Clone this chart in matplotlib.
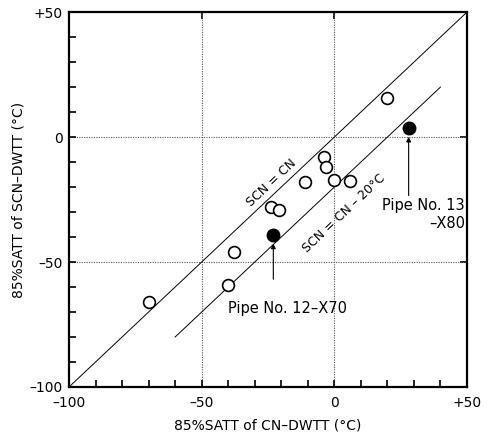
import matplotlib
matplotlib.use("Agg")
import matplotlib.pyplot as plt
import numpy as np

# Data
open_x = [-70, -40, -38, -24, -21, -11, -4, -3, 0, 6, 20]
open_y = [-66, -59, -46, -28, -29, -18, -8, -12, -17, -17.5, 15.5]
filled_x = [-23, 28]
filled_y = [-39, 3.7]
line1_x = [-100, 50]
line1_y = [-100, 50]
line2_x = [-60, 40]
line2_y = [-80, 20]
xticks_major = [-100, -50, 0, 50]
xtick_labels = ["\u2013100", "\u201350", "0", "+50"]
yticks_major = [-100, -50, 0, 50]
ytick_labels = ["\u2013100", "\u201350", "0", "+50"]

plt.rcParams['font.family'] = ['DejaVu Sans']

fig = plt.figure(figsize=(4.88, 4.32), dpi=100)
ax = fig.add_axes([0.1414, 0.1042, 0.957 - 0.1414, 0.972 - 0.1042])
ax.set_xlim(-100, 50)
ax.set_ylim(-100, 50)

# grid lines
for v in [-50, 0]:
    ax.axvline(v, color='#555555', lw=0.8, ls=(0, (1, 1.2)), zorder=1)
    ax.axhline(v, color='#555555', lw=0.8, ls=(0, (1, 1.2)), zorder=1)

ax.plot(line1_x, line1_y, color='black', lw=0.7, zorder=2)
ax.plot(line2_x, line2_y, color='black', lw=0.7, zorder=2)

ax.plot(open_x, open_y, ls='none', marker='o', ms=8.5, mfc='white', mec='black', mew=1.2, zorder=3)
ax.plot(filled_x, filled_y, ls='none', marker='o', ms=9, mfc='black', mec='black', zorder=3)

# line labels
ax.text(-23.8, -18.4, "SCN = CN", rotation=43.3, ha='center', va='center', fontsize=9, rotation_mode='anchor')
ax.text(3.8, -30.4, "SCN = CN \u2013 20\u00b0C", rotation=43.3, ha='center', va='center', fontsize=9, rotation_mode='anchor')

# arrows
ax.annotate("", xy=(filled_x[0], filled_y[0] - 2.5), xytext=(filled_x[0], -58),
            arrowprops=dict(arrowstyle='-|>', color='black', lw=0.8, mutation_scale=7))
ax.annotate("", xy=(filled_x[1], filled_y[1] - 2.5), xytext=(filled_x[1], -24.5),
            arrowprops=dict(arrowstyle='-|>', color='black', lw=0.8, mutation_scale=7))
ax.text(-40, -68.4, "Pipe No. 12\u2013X70", ha='left', va='center', fontsize=10.5)
ax.text(49.2, -31, "Pipe No. 13\n\u2013X80", ha='right', va='center', fontsize=10.5, linespacing=1.2)

ax.set_xticks(xticks_major)
ax.set_xticklabels(xtick_labels)
ax.set_yticks(yticks_major)
ax.set_yticklabels(ytick_labels)
ax.set_xticks(np.arange(-90, 50, 10), minor=True)
ax.set_yticks(np.arange(-90, 50, 10), minor=True)
ax.tick_params(which='both', direction='in', length=5, width=1.2, labelsize=10,
               top=False, right=False)
ax.tick_params(axis='x', pad=6.5)
ax.tick_params(axis='y', pad=4.5)

# top/right ticks at -50 and 0
secx = ax.secondary_xaxis('top')
secx.set_xticks([-50, 0])
secx.tick_params(direction='in', length=5, width=1.2, labeltop=False)
secy = ax.secondary_yaxis('right')
secy.set_yticks([-50, 0])
secy.tick_params(direction='in', length=5, width=1.2, labelright=False)
for s in secx.spines.values():
    s.set_visible(False)
for s in secy.spines.values():
    s.set_visible(False)

for s in ax.spines.values():
    s.set_linewidth(1.6)

ax.set_xlabel("85%SATT of CN\u2013DWTT (\u00b0C)", fontsize=10, labelpad=6)
ax.set_ylabel("85%SATT of SCN\u2013DWTT (\u00b0C)", fontsize=10, labelpad=3)

fig.savefig("out.png", dpi=100)
